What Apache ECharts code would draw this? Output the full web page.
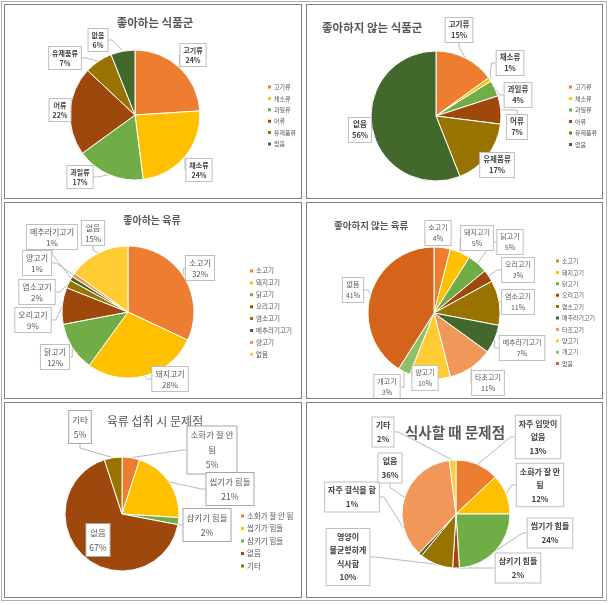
<!DOCTYPE html>
<html><head><meta charset="utf-8">
<script src="https://cdn.jsdelivr.net/npm/echarts@6/dist/echarts.min.js"></script>
<style>
body{margin:0;background:#fff;}
#wrap{position:relative;width:615px;height:605px;overflow:hidden;}
.box{position:absolute;border:1px solid #808080;box-sizing:border-box;pointer-events:none;}
.outer{border-color:#b0b0b0;}
.chart{position:absolute;}
</style></head><body><div id="wrap"></div>
<script>
// ---- data ----
const foodCategories = ['고기류','채소류','과일류','어류','유제품류','없음'];
const likedFoodValues = [24,24,17,22,7,6];
const dislikedFoodValues = [15,1,4,7,17,56];
const likedMeatCategories = ['소고기','돼지고기','닭고기','오리고기','염소고기','메추라기고기','양고기','없음'];
const likedMeatValues = [32,28,12,9,2,1,1,15];
const dislikedMeatCategories = ['소고기','돼지고기','닭고기','오리고기','염소고기','메추라기고기','타조고기','양고기','개고기','없음'];
const dislikedMeatValues = [4,5,5,3,11,7,11,10,3,41];
const meatProblemCategories = ['소화가 잘 안 됨','씹기가 힘들','삼키기 힘들','없음','기타'];
const meatProblemValues = [5,21,2,67,5];
const mealProblemCategories = ['자주 입맛이 없음','소화가 잘 안 됨','씹기가 힘들','삼키기 힘들','영양이 불균형하게 식사함','자주 결식을 함','없음','기타'];
const mealProblemValues = [13,12,24,2,10,1,36,2];
const titles = ['좋아하는 식품군','좋아하지 않는 식품군','좋아하는 육류','좋아하지 않는 육류','육류 섭취 시 문제점','식사할 때 문제점'];
const labelBreaks = {'소화가 잘 안 됨':'소화가 잘 안\n됨','자주 입맛이 없음':'자주 입맛이\n없음','영양이 불균형하게 식사함':'영양이\n불균형하게\n식사함'};

// ---- style ----
const OR='#ED7D31', GOLD='#FFC000', GR='#70AD47', BR='#9E480E', OL='#997300', DG='#43682B', LOR='#F1975A', LGOLD='#FFCD33', LGR='#8CC168', DOR='#D5641B';
const FONT='"Noto Sans CJK KR","Noto Sans",sans-serif';

const panels = [
 {box:[4,4,302,199], cats:foodCategories, vals:likedFoodValues, colors:[OR,GOLD,GR,BR,OL,DG],
  title:{x:155,y:23,size:11.5,weight:'bold',align:'center',color:'#595959'},
  center:[135,115], r:65,
  label:{size:7,weight:'bold',lh:10,color:'#404040',border:'#bfbfbf'},
  labelPos:[[193,55],[199,170],[80,177],[60,110],[65,58],[98,40]],
  legend:{x:268,y:87,step:11.4,size:6}},
 {box:[306,4,603,199], cats:foodCategories, vals:dislikedFoodValues, colors:[OR,GOLD,GR,BR,OL,DG],
  title:{x:322,y:28,size:11.5,weight:'bold',align:'left',color:'#595959'},
  center:[436,116], r:65,
  label:{size:7.5,weight:'bold',lh:11,color:'#404040',border:'#bfbfbf'},
  labelPos:[[459,30],[510,63],[518,95],[517,127],[497,165],[360,130]],
  legend:{x:569,y:87,step:11.5,size:6}},
 {box:[4,202,302,399], cats:likedMeatCategories, vals:likedMeatValues, colors:[OR,GOLD,GR,BR,OL,DG,LOR,LGOLD],
  title:{x:152,y:220,size:10,weight:'bold',align:'center',color:'#595959'},
  center:[128,312], r:66,
  label:{size:8,weight:'normal',lh:11,color:'#595959',border:'#bfbfbf'},
  labelPos:[[200,268],[170,379],[55,357],[33,320],[37,292],[52,237],[37,263],[93,233]],
  legend:{x:250,y:271,step:11.9,size:6.5}},
 {box:[306,202,603,399], cats:dislikedMeatCategories, vals:dislikedMeatValues, colors:[OR,GOLD,GR,BR,OL,DG,LOR,LGOLD,LGR,DOR],
  title:{x:334,y:225,size:9.5,weight:'bold',align:'left',color:'#595959'},
  center:[434,313], r:66,
  label:{size:7,weight:'normal',lh:11,color:'#595959',border:'#bfbfbf'},
  labelPos:[[438,233],[477,238],[510,242],[518,270],[518,302],[522,348],[488,383],[425,378],[387,387],[353,290]],
  legend:{x:556,y:261,step:11.4,size:6}},
 {box:[4,402,302,598], cats:meatProblemCategories, vals:meatProblemValues, colors:[OR,GOLD,GR,BR,OL],
  title:{x:155,y:421,size:12,weight:'normal',align:'center',color:'#595959'},
  center:[122,514], r:57,
  label:{size:8.5,weight:'normal',lh:15,color:'#595959',border:'#a6a6a6'},
  labelPos:[[212,450],[230,489],[207,525],[98,540],[80,427]],
  legend:{x:241,y:516,step:12.5,size:7.5}},
 {box:[306,402,603,598], cats:mealProblemCategories, vals:mealProblemValues, colors:[OR,GOLD,GR,BR,OL,DG,LOR,LGOLD],
  title:{x:455,y:432,size:14.5,weight:'bold',align:'center',color:'#595959'},
  center:[456,514], r:54,
  label:{size:8,weight:'bold',lh:13.5,color:'#404040',border:'#bfbfbf'},
  labelPos:[[538,437],[540,485],[550,533],[518,568],[348,557],[352,497],[390,468],[383,432]],
  legend:null}
];

const wrap = document.getElementById('wrap');
const outer = document.createElement('div');
outer.className='box outer';
Object.assign(outer.style,{left:'1px',top:'1px',width:'606px',height:'600px'});
wrap.appendChild(outer);

panels.forEach((p, idx) => {
  const [x0,y0,x1,y1] = p.box;
  const w = x1-x0, h = y1-y0;
  const el = document.createElement('div');
  el.className='chart';
  Object.assign(el.style,{left:x0+'px',top:y0+'px',width:w+'px',height:h+'px'});
  wrap.appendChild(el);
  const bx = document.createElement('div');
  bx.className='box';
  Object.assign(bx.style,{left:x0+'px',top:y0+'px',width:w+'px',height:h+'px'});
  wrap.appendChild(bx);

  const chart = echarts.init(el, null, {width:w, height:h});
  const data = p.cats.map((c,i)=>({name:c, value:p.vals[i], itemStyle:{color:p.colors[i]}}));
  const L = p.label;
  const opt = {
    animation:false,
    textStyle:{fontFamily:FONT},
    graphic:[{type:'text', x:p.title.x-x0, y:p.title.y-y0,
      style:{text:titles[idx], fill:p.title.color, font:`${p.title.weight} ${p.title.size}px ${FONT}`,
             align:p.title.align, verticalAlign:'middle'}}],
    series:[{
      type:'pie', center:[p.center[0]-x0, p.center[1]-y0], radius:p.r,
      startAngle:90, clockwise:true, avoidLabelOverlap:false,
      itemStyle:{borderColor:'#fff', borderWidth:1},
      emphasis:{disabled:true},
      label:{show:true, position:'outside', fontFamily:FONT, fontSize:L.size, fontWeight:L.weight,
        color:L.color, lineHeight:L.lh, align:'center',
        backgroundColor:'#fff', borderColor:L.border, borderWidth:1, padding:[1,3],
        formatter:(q)=>(labelBreaks[q.name]||q.name)+'\n'+q.value+'%'},
      labelLine:{show:true, length:4, length2:4, lineStyle:{color:'#a6a6a6', width:0.8}},
      labelLayout:(q)=>{const pos=p.labelPos[q.dataIndex]; return {x:pos[0]-x0, y:pos[1]-y0, align:'center', verticalAlign:'middle'};},
      data:data
    }]
  };
  if (p.legend) {
    const lh = p.legend.size + 2;
    opt.legend = {orient:'vertical', left:p.legend.x-x0-2, top:p.legend.y-y0-lh/2, padding:0,
      itemWidth:5, itemHeight:5, icon:'rect', itemGap:p.legend.step-lh, selectedMode:false,
      textStyle:{fontFamily:FONT, fontSize:p.legend.size, color:'#595959', lineHeight:lh, padding:[0,0,0,-3]},
      data:p.cats};
  }
  chart.setOption(opt);
});
</script></body></html>
